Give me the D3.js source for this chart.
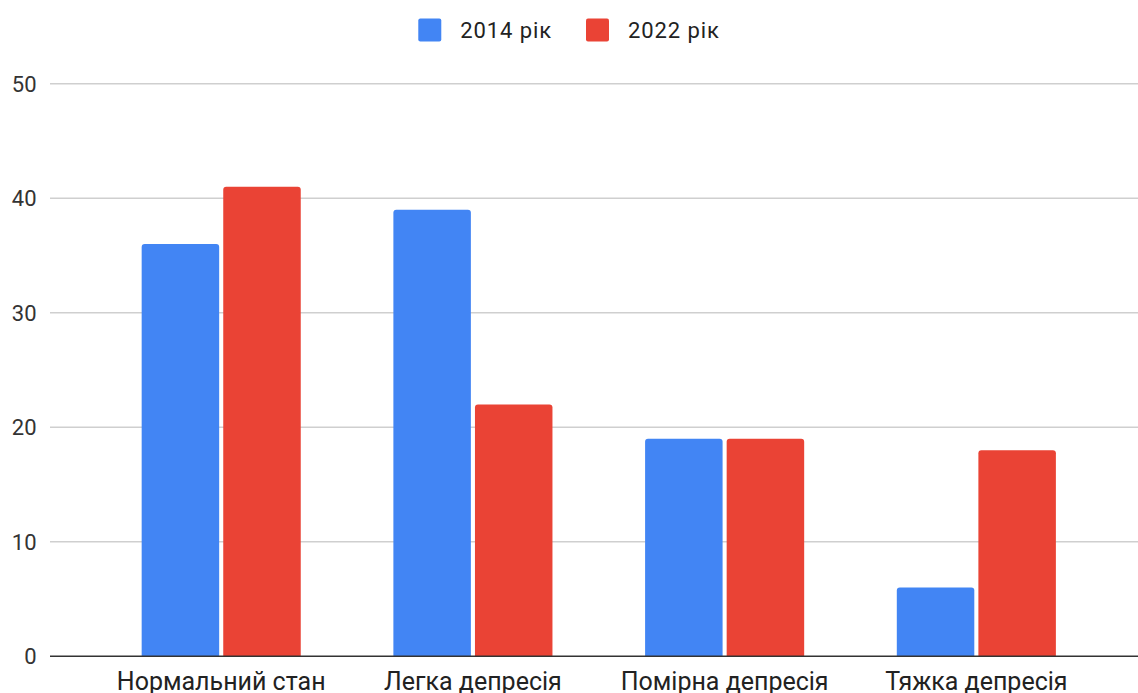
<!DOCTYPE html>
<html>
<head>
<meta charset="utf-8">
<script src="https://cdn.jsdelivr.net/npm/d3@7"></script>
<style>
  html, body { margin: 0; padding: 0; background: #fff; }
  svg { display: block; font-family: Roboto, "Noto Sans", sans-serif; }
</style>
</head>
<body>
<svg id="chart" width="1138" height="693"></svg>
<script>
// Categories and series
const categories = ["Нормальний стан", "Легка депресія", "Помірна депресія", "Тяжка депресія"];
const seriesNames = ["2014 рік", "2022 рік"];
const values2014 = [36, 39, 19, 6];
const values2022 = [41, 22, 19, 18];
const yTicks = [0, 10, 20, 30, 40, 50];
const colors = ["#4285F4", "#EA4335"];

const series = [values2014, values2022];
const rows = categories.map((c, i) => ({ category: c, values: series.map(s => s[i]) }));

const W = 1138, H = 693;
const plotLeft = 50, plotRight = 1138;
const svg = d3.select("#chart");

const y = d3.scaleLinear().domain([0, 50]).range([656.3, 83.8]);

const x = d3.scaleBand()
  .domain(categories)
  .range([95.35, 1102.2])
  .paddingInner(0.368)
  .paddingOuter(0.184);

const xInner = d3.scaleBand()
  .domain(d3.range(seriesNames.length))
  .range([0, x.bandwidth()])
  .paddingInner(0.05)
  .paddingOuter(0);

// Gridlines
svg.append("g")
  .selectAll("line")
  .data(yTicks.filter(t => t !== 0))
  .join("line")
  .attr("x1", plotLeft).attr("x2", plotRight)
  .attr("y1", d => y(d)).attr("y2", d => y(d))
  .attr("stroke", "#cfcfcf")
  .attr("stroke-width", 1.6);

// Y tick labels
svg.append("g")
  .selectAll("text")
  .data(yTicks)
  .join("text")
  .attr("x", 36.5)
  .attr("y", d => y(d))
  .attr("dy", "0.36em")
  .attr("text-anchor", "end")
  .attr("font-size", 22)
  .attr("fill", "#333")
  .text(d => d);

// Bars with slightly rounded top corners
function barPath(x0, w, yTop, yBase, r) {
  r = Math.min(r, w / 2, (yBase - yTop) / 2);
  return `M${x0},${yBase}V${yTop + r}Q${x0},${yTop} ${x0 + r},${yTop}` +
         `H${x0 + w - r}Q${x0 + w},${yTop} ${x0 + w},${yTop + r}V${yBase}Z`;
}

const groups = svg.append("g")
  .selectAll("g")
  .data(rows)
  .join("g")
  .attr("transform", d => `translate(${x(d.category)},0)`);

groups.selectAll("path")
  .data(d => d.values.map((v, k) => ({ v, k })))
  .join("path")
  .attr("fill", d => colors[d.k])
  .attr("d", d => barPath(xInner(d.k), xInner.bandwidth(), y(d.v), y(0), 3));

// Baseline
svg.append("line")
  .attr("x1", plotLeft).attr("x2", plotRight)
  .attr("y1", y(0)).attr("y2", y(0))
  .attr("stroke", "#333")
  .attr("stroke-width", 1.5);

// X axis labels
const xAxis = d3.axisBottom(x).tickSize(0).tickPadding(0);
const gx = svg.append("g")
  .attr("transform", `translate(0,${y(0)})`)
  .call(xAxis);
gx.select(".domain").remove();
gx.selectAll("text")
  .attr("y", 33.5)
  .attr("dy", 0)
  .attr("font-size", 25)
  .attr("font-family", "Roboto, sans-serif")
  .attr("fill", "#222");

// Legend
const legend = svg.append("g");
const items = legend.selectAll("g")
  .data(seriesNames)
  .join("g");
items.append("rect")
  .attr("width", 23).attr("height", 23)
  .attr("y", 18.5).attr("rx", 2)
  .attr("fill", (d, i) => colors[i]);
items.append("text")
  .attr("x", 42)
  .attr("y", 30)
  .attr("dy", "0.36em")
  .attr("font-size", 22)
  .attr("letter-spacing", 0.9)
  .attr("fill", "#222")
  .text(d => d);

const widths = [];
items.each(function () {
  const tw = d3.select(this).select("text").node().getComputedTextLength();
  widths.push(42 + tw);
});
const gap = 34;
const total = d3.sum(widths) + gap * (widths.length - 1);
let start = W / 2 - total / 2;
items.attr("transform", (d, i) => {
  const t = `translate(${start},0)`;
  start += widths[i] + gap;
  return t;
});
</script>
</body>
</html>
